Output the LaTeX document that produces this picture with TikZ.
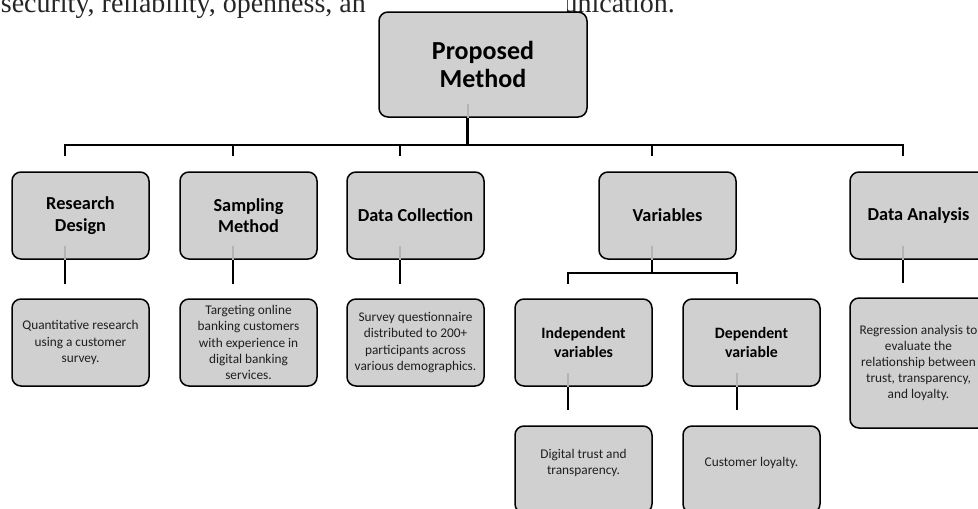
\documentclass[tikz,border=0pt]{standalone}
\usepackage{fontspec}
\setmainfont{Carlito}
\newfontfamily\bodyserif{Liberation Serif}
\definecolor{boxgray}{HTML}{D0D0D0}
\definecolor{ghost}{HTML}{B4B4B4}
\begin{document}
\begin{tikzpicture}[x=1pt,y=-1pt,
  box/.style={draw=black, line width=1.5pt, fill=boxgray, rounded corners=9pt,
    minimum width=137pt, minimum height=87pt, align=center, inner sep=2pt, text=black},
  head/.style={box, font=\bfseries\fontsize{18.3}{21.5}\selectfont},
  subhead/.style={box, font=\bfseries\fontsize{15.8}{19}\selectfont},
  detail/.style={box, font=\fontsize{13.3}{16.2}\selectfont, text=black!88},
  plain/.style={font=\fontsize{13.3}{16.2}\selectfont, text=black!88, align=center},
  runtext/.style={anchor=base east, inner sep=0pt, font=\bodyserif\fontsize{28}{28}\selectfont, text=black!85},
  conn/.style={draw=black, line width=2.6pt},
  ghostline/.style={draw=ghost, line width=2pt}]
\useasboundingbox (0,0) rectangle (978,509);
\clip (0,0) rectangle (978,509);

% partly hidden running text
\node[runtext] (t1) at (366,12) {security, reliability, openness, an};
\node[runtext] (t2) at (675,12) {communication.};
\fill[white] (367,-5) rectangle (567,30);

% boxes
\node[box, minimum width=208pt, minimum height=105pt, font=\bfseries\fontsize{26}{28.5}\selectfont] (pm) at (483,64.5) {Proposed\\Method};

\node[head] (rd)  at (80.5,215.5)  {Research\\Design};
\node[head] (sm)  at (248.5,215.5) {Sampling\\Method};
\node[head] (dc)  at (415.5,215.5) {Data Collection};
\node[head] (var) at (667.5,215.5) {Variables};
\node[head] (da)  at (918.5,215.5) {Data Analysis};

\node[detail] (rdd) at (80.5,342.5)  {Quantitative research\\using a customer\\survey.};
\node[detail] (smd) at (248.5,342.5) {Targeting online\\banking customers\\with experience in\\digital banking\\services.};
\node[detail] (dcd) at (415.5,342.5) {Survey questionnaire\\distributed to 200+\\participants across\\various demographics.};
\node[subhead] (ind) at (583.5,342.5) {Independent\\variables};
\node[subhead] (dep) at (751.5,342.5) {Dependent\\variable};
\node[detail, minimum height=130pt] (dad) at (918.5,363) {Regression analysis to\\evaluate the\\relationship between\\trust, transparency,\\and loyalty.};

\node[box] (dt) at (583.5,469.5) {};
\node[box] (cl) at (751.5,469.5) {};
\node[plain] (dtt) at (583.5,463) {Digital trust and\\transparency.};
\node[plain] (clt) at (751.5,463) {Customer loyalty.};

% connector anchor points (offset from box centres, as in the reference)
\foreach \n/\s in {pm/15.3, rd/15.5, sm/15.5, dc/15.5, var/15.5, da/15.5, ind/15.5, dep/14.5, rdd/15.5, smd/15.5, dcd/15.5, dad/15.5, dt/15.5, cl/14.5} {
  \coordinate (\n T) at ([xshift=-\s pt]\n.north);
  \coordinate (\n B) at ([xshift=-\s pt]\n.south);
}
\coordinate (jt) at (0,145);
\coordinate (jv) at (0,273);

% faint stubs inside the boxes
\foreach \n in {pm, rd, sm, dc, var, da, ind, dep}
  \draw[ghostline] (\n B) -- ++(0,-14);

% main tree
\draw[conn] (pmB) -- (pmB |- jt);
\draw[conn, line cap=rect] (rdT |- jt) -- (daT |- jt);
\foreach \n in {rd, sm, dc, var, da}
  \draw[conn, shorten >=15pt] (\n T |- jt) -- (\n T);

% children of level 1
\foreach \a/\b in {rd/rdd, sm/smd, dc/dcd, da/dad}
  \draw[conn, shorten >=14pt] (\a B) -- (\b T);

% variables subtree
\draw[conn] (varB) -- (varB |- jv);
\draw[conn, line cap=rect] (indT |- jv) -- (depT |- jv);
\draw[conn, shorten >=14pt] (indT |- jv) -- (indT);
\draw[conn, shorten >=14pt] (depT |- jv) -- (depT);

% variables to leaves
\draw[conn, shorten >=15pt] (indB) -- (dtT);
\draw[conn, shorten >=15pt] (depB) -- (clT);
\end{tikzpicture}
\end{document}
